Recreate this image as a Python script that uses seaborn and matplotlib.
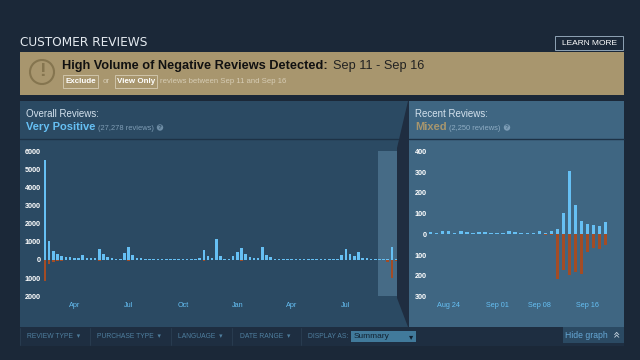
import pandas as pd
import seaborn as sns
import matplotlib.pyplot as plt
from matplotlib.patches import Rectangle, Polygon, Circle

# overall reviews, one bar per week
overall_pos = [5550, 1050, 500, 330, 220, 170, 160, 120, 110, 270, 100, 90, 90, 620, 330, 150, 90, 70, 60,
               380, 730, 300, 130, 100, 80, 70, 80, 80, 70, 60, 60, 60, 60, 60, 60, 60, 60, 100, 560, 210,
               100, 1150, 220, 60, 60, 220, 450, 680, 310, 150, 130, 100, 700, 300, 150, 60, 60, 60, 60, 60,
               60, 60, 60, 60, 60, 60, 60, 60, 60, 60, 60, 300, 600, 350, 200, 450, 130, 100, 80, 80, 60, 60,
               60, 720, 60]
overall_neg = [-1150, -200, -100, -30, -50, 0, 0, 0, 0, 0, 0, 0, 0, -80, 0, 0, 0, 0, 0,
               0, -40, 0, 0, 0, 0, 0, 0, 0, 0, 0, 0, 0, 0, 0, 0, 0, 0, 0, -60, 0,
               0, 0, 0, 0, 0, 0, 0, -60, 0, 0, 0, 0, 0, 0, 0, 0, 0, 0, 0, 0,
               0, 0, 0, 0, 0, 0, 0, 0, 0, 0, 0, 0, 0, 0, 0, 0, 0, 0, 0, 0, 0, 0,
               -100, -1000, -50]
overall_ticks = [7, 20, 33, 46, 59, 72]
overall_labels = ['Apr', 'Jul', 'Oct', 'Jan', 'Apr', 'Jul']
overall_yticks = [6000, 5000, 4000, 3000, 2000, 1000, 0, -1000, -2000]

# recent reviews, one bar per day
recent_pos = [10, 6, 14, 14, 8, 14, 10, 8, 12, 12, 6, 8, 8, 14, 10, 6, 6, 6, 14, 8,
              14, 25, 103, 305, 140, 65, 48, 45, 38, 58]
recent_neg = [0, 0, 0, 0, 0, 0, 0, 0, 0, 0, 0, 0, 0, 0, 0, 0, 0, 0, 0, -3,
              -5, -215, -170, -195, -180, -190, -85, -65, -70, -50]
recent_ticks = [3, 11, 18, 26]
recent_labels = ['Aug 24', 'Sep 01', 'Sep 08', 'Sep 16']
recent_yticks = [400, 300, 200, 100, 0, -100, -200, -300]

sns.set_style('dark')
plt.rcParams['font.family'] = ['Liberation Sans', 'DejaVu Sans']

BG = '#1b2838'
LEFT = '#2b4a63'
RIGHT = '#3f6682'
BLUE = '#66c0f4'
RED = '#a34c25'

fig = plt.figure(figsize=(6.4, 3.6), dpi=100, facecolor=BG)

# full figure axes in pixels for the page furniture
page = fig.add_axes([0, 0, 1, 1], zorder=0)
page.set_xlim(0, 640)
page.set_ylim(360, 0)
page.axis('off')

page.add_patch(Rectangle((20, 52), 604, 43, color='#a8966e', lw=0))
page.add_patch(Rectangle((20, 101), 389, 226, color=LEFT, lw=0))
page.add_patch(Rectangle((408, 101), 216, 226, color=RIGHT, lw=0))
page.add_patch(Rectangle((378, 151), 19, 145, color='#466b86', lw=0))
page.add_patch(Polygon([(408, 101), (409, 101), (409, 327), (408, 327), (397, 298), (397, 148)], color='#1f2d40', lw=0))
page.plot([20, 398], [139, 139], color='#1d3246', lw=1)
page.plot([409, 624], [139, 139], color='#1d3246', lw=1)
page.add_patch(Rectangle((20, 327), 604, 19, color='#1e2e41', lw=0))

page.text(20, 43, 'CUSTOMER REVIEWS', color='#e4eaf0', fontsize=8.7, va='center', family=['DejaVu Sans'])
page.add_patch(Rectangle((555, 36), 68, 14, fc='none', ec='#8fa3b5', lw=0.7))
page.text(589, 43.5, 'LEARN MORE', color='white', fontsize=6, ha='center', va='center')

page.add_patch(Circle((42, 72), 12, fc='none', ec='#85754f', lw=1.5))
page.text(42, 72, '!', color='#85754f', fontsize=14, fontweight='bold', ha='center', va='center')
page.text(62, 66, 'High Volume of Negative Reviews Detected:', color='#111111', fontsize=9.2,
          fontweight='bold', va='center')
page.text(333, 66, 'Sep 11 - Sep 16', color='#222222', fontsize=9.2, va='center')
page.add_patch(Rectangle((63, 74.5), 35, 13, fc='none', ec='#d6ccb4', lw=0.6))
page.text(80.5, 81.5, 'Exclude', color='white', fontsize=5.8, fontweight='bold', ha='center', va='center')
page.text(106, 81.5, 'or', color='#d6ccb4', fontsize=5.8, ha='center', va='center')
page.add_patch(Rectangle((115, 74.5), 42, 13, fc='none', ec='#d6ccb4', lw=0.6))
page.text(136, 81.5, 'View Only', color='white', fontsize=5.8, fontweight='bold', ha='center', va='center')
page.text(160, 81.5, 'reviews between Sep 11 and Sep 16', color='#d6ccb4', fontsize=5.6, va='center')

page.text(26, 114, 'Overall Reviews:', color='#d4e2ee', fontsize=7, va='center')
page.text(26, 127, 'Very Positive', color='#66c0f4', fontsize=8, fontweight='bold', va='center')
page.text(98, 128, '(27,278 reviews)', color='#7f9db5', fontsize=5.4, va='center')
page.add_patch(Circle((160, 127.5), 3.2, color='#6f8ea6', lw=0))
page.text(160, 127.5, '?', color=LEFT, fontsize=4.5, fontweight='bold', ha='center', va='center')

page.text(415, 114, 'Recent Reviews:', color='#d4e2ee', fontsize=7, va='center')
page.text(415, 127, 'Mixed', color='#a8966e', fontsize=8, fontweight='bold', va='center')
page.text(449, 128, '(2,250 reviews)', color='#8fadc4', fontsize=5.4, va='center')
page.add_patch(Circle((507, 127.5), 3.2, color='#7d9db6', lw=0))
page.text(507, 127.5, '?', color=RIGHT, fontsize=4.5, fontweight='bold', ha='center', va='center')

for x, name in zip([27, 97, 178, 240], ['REVIEW TYPE', 'PURCHASE TYPE', 'LANGUAGE', 'DATE RANGE']):
    page.text(x, 337, name + '  \u25be', color='#4f7f9f', fontsize=4.9, va='center')
for x in [20, 90, 171, 232, 301]:
    page.plot([x, x], [328, 345], color='#2a3e52', lw=0.6)
page.text(308, 337, 'DISPLAY AS:', color='#4f7f9f', fontsize=4.9, va='center')
page.add_patch(Rectangle((351, 331), 65, 11, color='#417a9b', lw=0))
page.text(354, 336.5, 'Summary', color='#10202f', fontsize=6, va='center')
page.text(411, 336.5, '\u25be', color='#10202f', fontsize=6, ha='center', va='center', family=['DejaVu Sans'])
page.add_patch(Rectangle((563, 327), 61, 16, color='#2b4a63', lw=0))
page.text(565, 335, 'Hide graph', color='#66a8d6', fontsize=6.2, va='center')
page.text(615, 335, '\u00ab', color='#c6d4df', fontsize=9, rotation=-90, ha='center', va='center', family=['DejaVu Sans'])


def draw_bars(rect, pos, neg, zero_y, px_per_unit, first_x, step, width, ticks, labels, yticks):
    # rect is left, top, right, bottom in pixels
    l, t, r, b = rect
    ax = fig.add_axes([l / 640, 1 - b / 360, (r - l) / 640, (b - t) / 360], zorder=2)
    ax.patch.set_alpha(0)
    idx = list(range(len(pos)))
    df = pd.DataFrame({'i': idx, 'pos': pos, 'neg': neg})
    sns.barplot(data=df, x='i', y='neg', ax=ax, color=RED, saturation=1, width=width, linewidth=0)
    sns.barplot(data=df, x='i', y='pos', ax=ax, color=BLUE, saturation=1, width=width, linewidth=0)
    ax.set_xlim((l - first_x) / step, (r - first_x) / step)
    ax.set_ylim((zero_y - b) / px_per_unit, (zero_y - t) / px_per_unit)
    ax.set_xticks(ticks)
    ax.set_xticklabels(labels)
    ax.set_yticks(yticks)
    ax.set_yticklabels([str(abs(v)) for v in yticks])
    ax.tick_params(axis='x', colors=BLUE, labelsize=5.2, length=0, pad=2)
    ax.tick_params(axis='y', colors='white', labelsize=5.2, length=0, pad=1)
    for lab in ax.get_yticklabels():
        lab.set_fontweight('bold')
    ax.set_xlabel('')
    ax.set_ylabel('')
    ax.grid(False)
    sns.despine(ax=ax, left=True, bottom=True)
    return ax


draw_bars((42, 145, 397, 299), overall_pos, overall_neg, 260, 18.1 / 1000, 45, 4.18, 0.62,
          overall_ticks, overall_labels, overall_yticks)
draw_bars((428, 145, 620, 299), recent_pos, recent_neg, 234.3, 20.75 / 100, 430.7, 6.03, 0.55,
          recent_ticks, recent_labels, recent_yticks)

fig.savefig('out.png', dpi=100, facecolor=BG)
